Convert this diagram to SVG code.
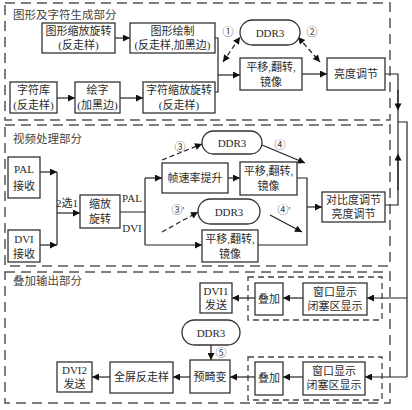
<svg xmlns="http://www.w3.org/2000/svg" width="412" height="410" viewBox="0 0 412 410">
<style>
text{font-family:"Liberation Serif","Noto Sans CJK SC",serif;font-size:11px;fill:#2a2a2a;text-anchor:middle}
.t{text-anchor:start;fill:#444;font-size:11.5px}
.b{fill:#fff;stroke:#333;stroke-width:1.3}
.sec{fill:none;stroke:#555;stroke-width:1.5;stroke-dasharray:10 6}
.grp{fill:none;stroke:#444;stroke-width:1.3;stroke-dasharray:6 4}
.c{fill:none;stroke:#222;stroke-width:1.2}
.a{marker-end:url(#ah)}
.d{stroke-dasharray:5 3}
.n{font-size:11px;fill:#444}
</style>
<defs>
<marker id="ah" viewBox="0 0 10 10" refX="10" refY="5" markerWidth="9" markerHeight="7" orient="auto-start-reverse" markerUnits="userSpaceOnUse"><path d="M0,0 L10,5 L0,10 z" fill="#111"/></marker>
<marker id="mid" viewBox="0 0 10 10" refX="5" refY="5" markerWidth="9" markerHeight="7" orient="auto" markerUnits="userSpaceOnUse"><path d="M0,0 L10,5 L0,10 z" fill="#111"/></marker>
</defs>
<rect width="412" height="410" fill="#fff"/>
<g id="sections">
<rect class="sec" x="5" y="3" width="385" height="117"/>
<text class="t" x="13" y="19">图形及字符生成部分</text>
<rect class="sec" x="5" y="125" width="385" height="141"/>
<text class="t" x="13" y="143">视频处理部分</text>
<rect class="sec" x="5" y="272" width="385" height="131"/>
<text class="t" x="13" y="285">叠加输出部分</text>
<rect class="grp" x="248" y="277" width="134" height="43"/>
<rect class="grp" x="248" y="357" width="134" height="43"/>
</g>
<g id="connectors">
<path class="c a" d="M115,38 H130"/>
<path class="c a" d="M57,98 H75"/>
<path class="c a" d="M120,98 H143"/>
<path class="c" d="M215,38 H218 V92 H215"/>
<path class="c a" d="M218,75 H240"/>
<path class="c d a" style="marker-start:url(#ah)" d="M223,62 L240,37"/>
<path class="c d a" style="marker-start:url(#ah)" d="M298,37 L320,62"/>
<path class="c a" d="M302,74 H327"/>
<path class="c" d="M385,74 H398 V205 H385"/>
<path class="c" d="M398,90 V107" style="marker-end:url(#mid)"/>
<path class="c" d="M398,190 V157" style="marker-end:url(#mid)"/>
<path class="c" d="M398,122 H407 V377"/>
<path class="c a" d="M40,172 H57"/>
<path class="c a" d="M40,245 H57"/>
<path class="c" d="M57,172 V245"/>
<path class="c a" d="M57,213 H80"/>
<path class="c" d="M120,212 H145 V245"/>
<path class="c" d="M145,212 V178"/>
<path class="c a" d="M145,178 H162"/>
<path class="c a" d="M145,245 H202"/>
<path class="c a" d="M228,178 H240"/>
<path class="c d a" d="M162,160 L202,144"/>
<path class="c a" d="M262,145 L305,163"/>
<path class="c d a" d="M162,232 L198,212"/>
<path class="c a" d="M270,215 L302,232"/>
<path class="c" d="M297,178 H307 V245 H258"/>
<path class="c a" d="M307,207 H322"/>
<path class="c a" d="M407,298 H367"/>
<path class="c a" d="M303,298 H283"/>
<path class="c a" d="M255,298 H232"/>
<path class="c a" d="M211,345 V360"/>
<path class="c a" d="M407,377 H365"/>
<path class="c a" d="M303,377 H283"/>
<path class="c a" d="M255,377 H230"/>
<path class="c a" d="M190,377 H173"/>
<path class="c a" d="M110,377 H92"/>
<text class="n" x="228" y="36">①</text>
<text class="n" x="312" y="36">②</text>
<text class="n" x="180" y="151">③</text>
<text class="n" x="280" y="149">④</text>
<text class="n" x="178" y="214">③'</text>
<text class="n" x="284" y="214">④'</text>
<text class="n" x="221" y="357">⑤</text>
<text x="132" y="202">PAL</text>
<text x="132" y="232">DVI</text>
<text x="67" y="207">2选1</text>
</g>
<g id="n1"><rect class="b" x="42" y="23" width="73" height="30"/><text x="78.5" y="35">图形缩放旋转</text><text x="78.5" y="49">(反走样)</text></g>
<g id="n2"><rect class="b" x="130" y="23" width="85" height="30"/><text x="172.5" y="35">图形绘制</text><text x="172.5" y="49">(反走样,加黑边)</text></g>
<g id="n3"><rect class="b" x="10" y="82" width="47" height="31"/><text x="33.5" y="94">字符库</text><text x="33.5" y="109">(反走样)</text></g>
<g id="n4"><rect class="b" x="75" y="82" width="45" height="31"/><text x="97.5" y="94">绘字</text><text x="97.5" y="109">(加黑边)</text></g>
<g id="n5"><rect class="b" x="143" y="82" width="72" height="31"/><text x="179" y="94">字符缩放旋转</text><text x="179" y="109">(反走样)</text></g>
<g id="n6"><rect class="b" x="240" y="20" width="60" height="25" rx="12.5"/><text x="270" y="37">DDR3</text></g>
<g id="n7"><rect class="b" x="240" y="58" width="62" height="32"/><text x="271" y="71">平移,翻转,</text><text x="271" y="86">镜像</text></g>
<g id="n8"><rect class="b" x="327" y="58" width="58" height="32"/><text x="356" y="78">亮度调节</text></g>
<g id="n9"><rect class="b" x="8" y="157" width="32" height="41"/><text x="24" y="173">PAL</text><text x="24" y="190">接收</text></g>
<g id="n10"><rect class="b" x="8" y="230" width="32" height="32"/><text x="24" y="243">DVI</text><text x="24" y="258">接收</text></g>
<g id="n11"><rect class="b" x="80" y="195" width="40" height="33"/><text x="100" y="208">缩放</text><text x="100" y="223">旋转</text></g>
<g id="n12"><rect class="b" x="162" y="163" width="66" height="30"/><text x="195" y="182">帧速率提升</text></g>
<g id="n13"><rect class="b" x="202" y="131" width="60" height="23" rx="11.5"/><text x="232" y="147">DDR3</text></g>
<g id="n14"><rect class="b" x="240" y="162" width="57" height="33"/><text x="268.5" y="175">平移,翻转,</text><text x="268.5" y="190">镜像</text></g>
<g id="n15"><rect class="b" x="198" y="199" width="62" height="25" rx="12.5"/><text x="229" y="216">DDR3</text></g>
<g id="n16"><rect class="b" x="202" y="230" width="56" height="32"/><text x="230" y="243">平移,翻转,</text><text x="230" y="258">镜像</text></g>
<g id="n17"><rect class="b" x="322" y="192" width="63" height="30"/><text x="353.5" y="204">对比度调节</text><text x="353.5" y="218">亮度调节</text></g>
<g id="n18"><rect class="b" x="255" y="283" width="28" height="32"/><text x="269" y="303">叠加</text></g>
<g id="n19"><rect class="b" x="303" y="283" width="64" height="32"/><text x="335" y="296">窗口显示</text><text x="335" y="310">闭塞区显示</text></g>
<g id="n20"><rect class="b" x="200" y="283" width="32" height="30"/><text x="216" y="295">DVI1</text><text x="216" y="309">发送</text></g>
<g id="n21"><rect class="b" x="182" y="320" width="58" height="25" rx="12.5"/><text x="211" y="337">DDR3</text></g>
<g id="n22"><rect class="b" x="190" y="360" width="40" height="33"/><text x="210" y="381">预畸变</text></g>
<g id="n23"><rect class="b" x="255" y="362" width="28" height="33"/><text x="269" y="382">叠加</text></g>
<g id="n24"><rect class="b" x="303" y="362" width="62" height="33"/><text x="334" y="375">窗口显示</text><text x="334" y="389">闭塞区显示</text></g>
<g id="n25"><rect class="b" x="110" y="362" width="63" height="31"/><text x="141.5" y="381">全屏反走样</text></g>
<g id="n26"><rect class="b" x="57" y="362" width="35" height="30"/><text x="74.5" y="374">DVI2</text><text x="74.5" y="388">发送</text></g>
</svg>
